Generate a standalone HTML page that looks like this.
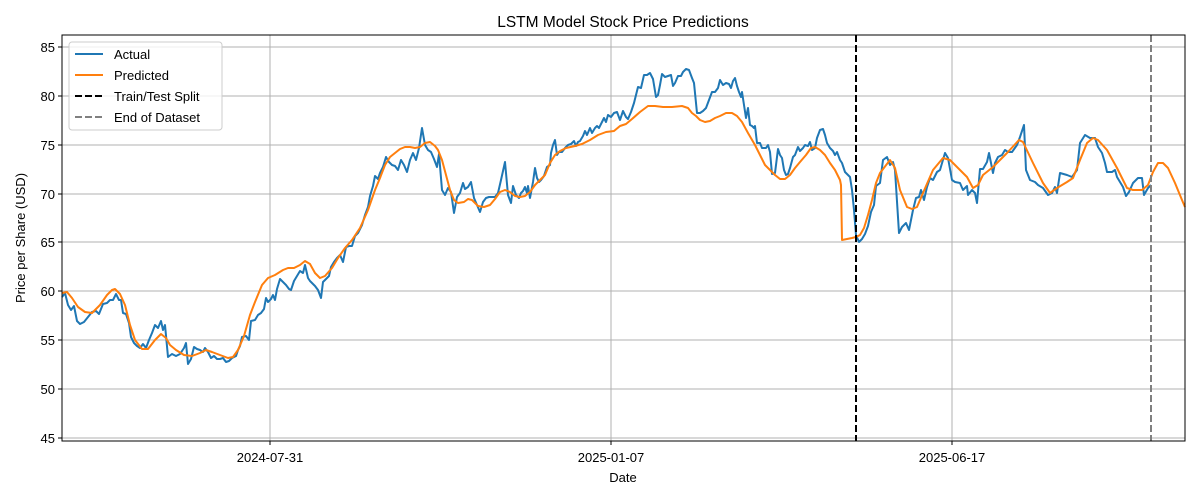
<!DOCTYPE html>
<html><head><meta charset="utf-8"><style>body{margin:0;background:#fff}svg{display:block}text{font-family:"Liberation Sans","DejaVu Sans",sans-serif;fill:#000}</style></head><body>
<svg width="1200" height="500" viewBox="0 0 1200 500">
<rect width="1200" height="500" fill="#fff"/>
<text x="623" y="27" font-size="15.5" text-anchor="middle">LSTM Model Stock Price Predictions</text>
<g stroke="#b0b0b0" stroke-width="1">
<line x1="62" x2="1185" y1="438" y2="438"/><line x1="62" x2="1185" y1="389" y2="389"/><line x1="62" x2="1185" y1="340" y2="340"/><line x1="62" x2="1185" y1="291" y2="291"/><line x1="62" x2="1185" y1="242" y2="242"/><line x1="62" x2="1185" y1="194" y2="194"/><line x1="62" x2="1185" y1="145" y2="145"/><line x1="62" x2="1185" y1="96" y2="96"/><line x1="62" x2="1185" y1="47" y2="47"/>
<line x1="270" x2="270" y1="35" y2="441"/><line x1="611" x2="611" y1="35" y2="441"/><line x1="952" x2="952" y1="35" y2="441"/>
</g>
<polyline fill="none" stroke="#1f77b4" stroke-width="2" stroke-linejoin="round" points="62,297 65,293 68,305 71,310 74,306 77,321 80,324 84,322 88,317 92,312 96,311 99,314 103,304 107,303 110,300 113,300 116,294 119,300 121,300 123,313 126,314 129,323 131,337 134,343 137,346 140,348 143,344 146,348 149,340 152,333 155,325 158,328 161,321 163,330 165,325 168,357 172,354 176,356 180,354 184,348 186,343 188,364 191,359 194,347 197,349 200,350 203,352 205,348 208,352 211,358 214,356 217,359 220,359 223,358 226,362 229,361 232,358 236,356 238,350 240,346 242,337 246,336 249,340 251,321 255,320 258,315 261,313 264,309 266,298 268,302 271,299 273,295 275,300 277,289 280,279 283,282 286,285 289,289 291,290 294,281 297,276 300,271 303,273 305,265 308,278 310,281 312,283 315,286 318,290 321,298 323,282 326,279 329,276 331,267 334,262 337,258 340,255 343,262 346,247 349,246 352,246 355,236 358,233 362,225 365,215 368,207 370,196 373,186 375,176 378,179 380,173 383,167 386,157 389,162 392,165 395,166 398,170 401,160 404,165 407,172 410,160 413,153 416,160 419,148 422,128 425,145 428,150 431,152 434,159 437,167 439,154 442,190 445,195 448,188 451,192 454,213 457,197 460,193 463,183 465,189 468,187 471,182 474,198 477,205 480,212 483,202 486,198 489,197 492,197 495,197 498,193 501,180 505,162 508,195 511,203 513,186 516,195 519,198 521,193 523,191 525,187 527,193 528,186 530,198 533,182 535,168 537,178 539,182 541,180 544,176 547,167 550,165 551,153 553,145 555,140 557,155 559,152 562,152 565,148 568,145 571,144 574,141 576,146 578,142 580,141 583,136 585,131 587,135 590,128 592,133 595,128 597,126 599,128 602,122 604,118 606,122 608,115 611,117 614,113 617,112 620,120 623,111 626,117 628,119 631,112 634,103 638,87 641,88 644,75 647,75 650,73 653,79 656,97 658,95 660,85 662,74 665,77 668,76 671,75 673,86 675,83 678,76 681,76 683,72 686,69 689,70 692,78 694,83 697,113 700,113 703,111 706,108 709,100 712,92 715,92 718,88 720,80 723,85 726,83 729,84 731,88 733,81 735,78 737,86 739,92 741,97 742,92 744,105 746,118 748,108 750,125 752,126 754,128 755,126 757,143 760,143 762,148 764,148 766,148 768,145 770,152 772,174 775,173 778,149 780,155 782,158 784,170 786,175 788,174 790,168 793,157 795,155 798,147 800,151 803,148 805,145 808,146 810,142 812,150 815,148 817,138 820,130 823,129 825,135 827,143 830,148 833,151 835,155 837,152 840,160 842,163 845,172 848,175 850,177 852,190 854,210 856,235 859,242 862,239 865,234 868,226 871,212 874,205 876,186 880,183 883,160 887,157 890,165 893,162 895,170 899,233 902,227 906,223 909,230 913,210 916,198 919,197 921,190 924,200 927,187 930,178 933,180 937,172 940,170 945,153 948,158 952,180 955,182 960,183 963,190 967,186 968,195 972,190 975,193 977,203 980,169 983,169 987,162 989,153 993,173 995,163 998,157 1002,155 1005,150 1008,152 1012,152 1017,145 1020,137 1024,125 1026,170 1030,180 1035,182 1038,185 1043,188 1048,195 1052,193 1055,187 1057,193 1060,173 1067,175 1072,177 1077,170 1080,143 1085,135 1090,138 1095,138 1098,147 1102,153 1105,163 1107,172 1112,172 1115,170 1117,177 1120,182 1123,187 1126,196 1129,192 1133,183 1138,178 1142,178 1144,195 1148,188 1151,185"/>
<polyline fill="none" stroke="#ff7f0e" stroke-width="2" stroke-linejoin="round" points="62,293 67,292 72,298 78,307 85,312 92,313 100,305 107,295 112,290 115,289 120,294 125,305 130,325 135,340 142,349 148,349 155,340 161,334 166,338 170,345 176,350 184,355 192,356 200,353 206,350 212,352 220,355 228,358 233,357 238,350 244,336 250,315 255,302 262,285 268,278 275,275 283,270 288,268 294,268 300,265 305,261 310,264 315,273 320,278 325,276 332,268 338,258 345,248 352,240 360,228 368,210 375,190 380,178 385,165 390,157 395,153 400,149 405,147 410,147 415,148 420,147 425,143 430,142 435,146 438,150 442,160 446,175 450,190 454,200 458,203 464,202 468,199 472,200 478,206 484,207 490,205 495,199 500,192 505,190 510,192 515,196 520,197 525,196 530,192 535,185 540,180 545,175 550,163 555,155 560,151 566,148 575,146 582,144 590,140 598,135 606,132 614,131 620,126 626,124 632,119 640,112 648,106 655,106 663,107 672,107 682,106 688,108 692,113 696,116 700,120 705,122 710,121 715,118 720,116 726,113 732,113 737,116 742,122 748,133 755,145 760,155 765,165 770,170 775,175 780,179 785,179 790,175 795,168 800,162 806,155 811,148 815,147 820,150 825,155 830,163 835,170 840,180 841,185 842,240 847,239 852,238 856,237 860,235 864,228 868,215 872,200 876,183 880,173 890,160 895,168 900,190 907,207 912,209 917,207 923,193 933,170 943,158 950,160 958,168 967,177 973,188 978,185 983,175 993,167 1007,153 1019,140 1023,142 1033,163 1043,183 1050,193 1057,188 1067,182 1073,178 1080,160 1087,143 1093,138 1098,140 1107,150 1117,168 1127,188 1133,190 1142,190 1148,185 1153,172 1158,163 1163,163 1168,168 1175,183 1182,200 1185,207"/>
<line x1="856" x2="856" y1="35" y2="441" stroke="#000" stroke-width="2" stroke-dasharray="7,3"/>
<line x1="1151" x2="1151" y1="35" y2="441" stroke="#808080" stroke-width="2" stroke-dasharray="7,3"/>
<rect x="62" y="35" width="1123" height="406" fill="none" stroke="#000" stroke-width="1"/>
<g font-size="13" text-anchor="end">
<text x="55" y="443">45</text><text x="55" y="394">50</text><text x="55" y="345">55</text><text x="55" y="296">60</text><text x="55" y="247">65</text><text x="55" y="199">70</text><text x="55" y="150">75</text><text x="55" y="101">80</text><text x="55" y="52">85</text>
</g>
<g stroke="#000"><line x1="58" x2="62" y1="438" y2="438"/><line x1="58" x2="62" y1="389" y2="389"/><line x1="58" x2="62" y1="340" y2="340"/><line x1="58" x2="62" y1="291" y2="291"/><line x1="58" x2="62" y1="242" y2="242"/><line x1="58" x2="62" y1="194" y2="194"/><line x1="58" x2="62" y1="145" y2="145"/><line x1="58" x2="62" y1="96" y2="96"/><line x1="58" x2="62" y1="47" y2="47"/>
<line x1="270" x2="270" y1="441" y2="445"/><line x1="611" x2="611" y1="441" y2="445"/><line x1="952" x2="952" y1="441" y2="445"/></g>
<g font-size="13" text-anchor="middle"><text x="270" y="462">2024-07-31</text><text x="611" y="462">2025-01-07</text><text x="952" y="462">2025-06-17</text>
<text x="623" y="482">Date</text></g>
<text transform="translate(25,238) rotate(-90)" font-size="13" text-anchor="middle">Price per Share (USD)</text>
<rect x="69" y="42" width="153" height="88" rx="3" fill="#fff" fill-opacity="0.8" stroke="#ccc"/>
<g stroke-width="2"><line x1="75" x2="103" y1="54" y2="54" stroke="#1f77b4"/><line x1="75" x2="103" y1="75" y2="75" stroke="#ff7f0e"/><line x1="75" x2="103" y1="96" y2="96" stroke="#000" stroke-dasharray="7,3"/><line x1="75" x2="103" y1="117" y2="117" stroke="#808080" stroke-dasharray="7,3"/></g>
<g font-size="13"><text x="114" y="59">Actual</text><text x="114" y="80">Predicted</text><text x="114" y="101">Train/Test Split</text><text x="114" y="122">End of Dataset</text></g>
</svg>
</body></html>
